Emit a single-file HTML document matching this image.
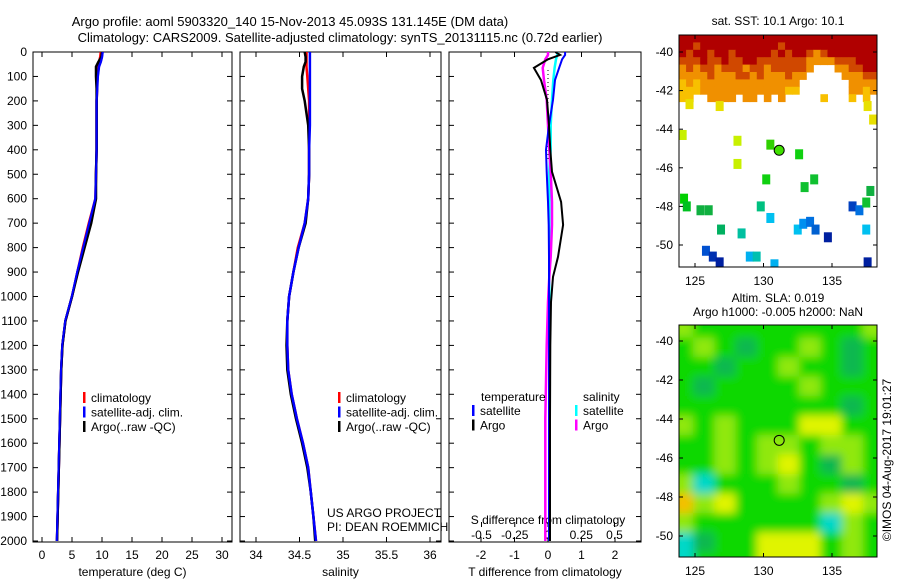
<!DOCTYPE html>
<html><head><meta charset="utf-8"><style>
body{margin:0;background:#fff;}
svg{display:block;font-family:"Liberation Sans",sans-serif;font-size:12px;}
</style></head><body>
<svg id="s" width="900" height="580" xmlns="http://www.w3.org/2000/svg">
<defs>
<clipPath id="c1"><rect x="33" y="52" width="199" height="490"/></clipPath>
<clipPath id="c2"><rect x="240" y="52" width="201" height="490"/></clipPath>
<clipPath id="c3"><rect x="449" y="52" width="192" height="490"/></clipPath>
<clipPath id="cm1"><rect x="679" y="35" width="198" height="232"/></clipPath>
<clipPath id="cm2"><rect x="679" y="325" width="198" height="232"/></clipPath>
<filter id="bl" x="-5%" y="-5%" width="110%" height="110%"><feGaussianBlur stdDeviation="4.5"/></filter>
</defs>
<text x="290" y="26" text-anchor="middle" font-size="13">Argo profile: aoml 5903320_140 15-Nov-2013 45.093S 131.145E (DM data)</text>
<text x="340" y="42" text-anchor="middle" font-size="13">Climatology: CARS2009. Satellite-adjusted climatology: synTS_20131115.nc (0.72d earlier)</text>
<g id="g1"></g>
<g id="g2"></g>
<g id="g3"></g>
<g id="m1"></g>
<g id="m2"></g>
<text transform="translate(891,460) rotate(-90)" text-anchor="middle">©IMOS 04-Aug-2017 19:01:27</text>
</svg>
<script>
const NS="http://www.w3.org/2000/svg";
const depths=[0,20,40,60,100,150,200,300,400,500,600,700,800,900,1000,1100,1200,1300,1400,1500,1600,1700,1800,1900,2000];
const tempClim=[9.8,9.7,9.5,9.3,9.2,9.2,9.1,9.1,9.1,9.0,8.9,7.8,6.8,5.9,5.0,3.9,3.4,3.2,3.1,3.0,2.9,2.8,2.7,2.6,2.5];
const tempSat=[10.1,10.0,9.8,9.5,9.3,9.2,9.1,9.1,9.1,9.0,8.9,7.9,6.9,5.9,5.0,3.9,3.4,3.2,3.1,3.0,2.9,2.8,2.7,2.6,2.5];
const tempArgo=[10.0,9.9,9.4,9.0,9.0,9.1,9.1,9.1,9.1,9.0,9.0,8.2,7.1,6.0,5.0,3.9,3.4,3.2,3.1,3.0,2.9,2.8,2.7,2.6,2.5];
const salClim=[34.58,34.58,34.58,34.58,34.59,34.60,34.61,34.61,34.61,34.61,34.60,34.56,34.48,34.43,34.38,34.36,34.36,34.37,34.41,34.47,34.54,34.60,34.63,34.66,34.69];
const salSat=[34.62,34.62,34.62,34.62,34.62,34.62,34.62,34.62,34.61,34.61,34.60,34.56,34.49,34.43,34.38,34.36,34.36,34.37,34.41,34.47,34.54,34.60,34.63,34.66,34.69];
const salArgo=[34.56,34.57,34.57,34.55,34.53,34.53,34.56,34.60,34.61,34.61,34.60,34.57,34.49,34.43,34.38,34.36,34.35,34.36,34.40,34.46,34.53,34.59,34.63,34.66,34.68];
const tdDepth=[0,12,30,65,115,196,300,400,490,613,707,838,920,1022,1200,1500,2000];
const tdArgo=[0.22,0.36,0.0,-0.42,-0.21,-0.03,0.03,0.07,0.12,0.39,0.45,0.30,0.15,0.09,0.07,0.06,0.06];
const tdSat=[0.51,0.51,0.42,0.33,0.21,0.15,0.03,-0.06,-0.04,0.0,0.02,0.03,0.03,0.03,0.03,0.03,0.03];
const sdArgo=[0.0,0.0,-0.02,-0.04,-0.03,-0.01,0.0,0.01,0.02,0.03,0.03,0.02,0.01,0.0,-0.01,-0.02,-0.02];
const sdSat=[0.07,0.07,0.06,0.05,0.04,0.03,0.02,0.02,0.01,0.01,0.01,0.01,0.01,0.01,0.01,0.01,0.01];
const depthTicks=[0,100,200,300,400,500,600,700,800,900,1000,1100,1200,1300,1400,1500,1600,1700,1800,1900,2000];
const tTicks=[0,5,10,15,20,25,30];
const sTicks=[34,34.5,35,35.5,36];
const sTickLabels=["34","34.5","35","35.5","36"];
const tdTicks=[-2,-1,0,1,2];
const sdTicks=[-0.5,-0.25,0,0.25,0.5];
const sdTickLabels=["-0.5","-0.25","0","0.25","0.5"];
const sstRows=["RRRRRRRRRRRRRRRRRRRRRRRRRRRR","RRrRRRRRRRRRRRrRRRRRRRRRRRRR","RrRRrRRrRRRRRrRrRRrorRRRRRRR","rrrRrrRrrRRrrrrrrroooorrrRRR","ororrorrrorrorrrrro...oorrRR","oooorooorroroooroo.....ooorr","yoyoooooooooooooo.......oooo","yyyooooooooooooyy.......ooyo","yy..oooo.oo.o.o.....y...y.y."];
const sstCol={R:"#b00000",r:"#d04800",o:"#f09000",y:"#f8c000"};
const sstSpots=[[124.6,-42.7,"#e8e000"],[126.8,-42.8,"#e8e000"],[128.1,-44.6,"#c8f000"],[128.1,-45.8,"#c8f000"],[130.5,-44.8,"#30d000"],[132.6,-45.3,"#10d010"],[130.2,-46.6,"#10d010"],[133.0,-47.0,"#10c030"],[133.7,-46.6,"#10c030"],[124.2,-47.6,"#00d000"],[124.4,-48.0,"#00c020"],[125.4,-48.2,"#10b040"],[126.0,-48.2,"#10b040"],[129.8,-48.0,"#00c080"],[126.9,-49.2,"#00b060"],[128.4,-49.4,"#00c0a0"],[130.5,-48.6,"#00c0f0"],[132.5,-49.2,"#00c0f0"],[132.9,-48.9,"#0090f0"],[133.4,-48.8,"#0070e0"],[133.8,-49.2,"#0060d0"],[134.7,-49.6,"#0020a0"],[136.5,-48.0,"#0040c0"],[137.0,-48.2,"#0070e0"],[137.5,-47.8,"#10c030"],[137.8,-47.2,"#10b040"],[137.5,-49.2,"#00c0f0"],[125.8,-50.3,"#0050d0"],[126.3,-50.6,"#0030b0"],[126.8,-50.9,"#0020a0"],[129.0,-50.6,"#00b0f0"],[129.5,-50.6,"#00c0b0"],[130.8,-51.0,"#00b0f0"],[137.6,-50.9,"#0020a0"],[124.1,-44.3,"#c8f000"],[138.0,-43.5,"#e8e000"],[137.6,-42.8,"#e8e000"]];
const slaGrid=[[1,0,0,0,0,0,0,0,0,1],[0,1,0,-1,0,0,1,0,-1,0],[0,0,-1,0,0,1,0,0,-1,0],[0,-1,0,0,0,0,1,0,0,0],[0,0,0,0,0,0,0,0,-1,0],[1,0,1,0,0,0,2,2,0,0],[0,0,1,0,1,1,0,1,1,0],[0,0,1,0,1,2,0,-1,1,0],[1,-2,0,0,0,1,0,0,-1,0],[3,1,2,0,0,0,0,1,2,1],[1,0,0,0,0,0,0,-2,1,0],[-2,-1,0,0,2,2,2,0,1,0],[-2,0,0,0,2,2,2,0,1,0]];
const slaCol={"-2":"#00d8c8","-1":"#10b850","0":"#10d800","1":"#90e810","2":"#e0f400","3":"#f4c000"};
const mapLonTicks=[125,130,135];
const map1LatTicks=[-40,-42,-44,-46,-48,-50];

function el(p,t,a,txt){const e=document.createElementNS(NS,t);for(const k in a)e.setAttribute(k,a[k]);if(txt!==undefined)e.textContent=txt;p.appendChild(e);return e;}
const yD=d=>52+d*0.2445;
function frame(g,x0,x1,ticksX,sx,labels,title){
  el(g,"rect",{x:x0,y:52,width:x1-x0,height:490,fill:"none",stroke:"#000"});
  depthTicks.forEach(d=>{el(g,"line",{x1:x0,x2:x0+5,y1:yD(d),y2:yD(d),stroke:"#000"});el(g,"line",{x1:x1-5,x2:x1,y1:yD(d),y2:yD(d),stroke:"#000"});});
  ticksX.forEach((v,i)=>{const x=sx(v);el(g,"line",{x1:x,x2:x,y1:52,y2:57,stroke:"#000"});el(g,"line",{x1:x,x2:x,y1:537,y2:542,stroke:"#000"});
    const t=el(g,"text",{x:x,y:559,"text-anchor":"middle"},labels[i]);});
  const tt=el(g,"text",{x:(x0+x1)/2,y:576,"text-anchor":"middle"},title);
}
function line(g,xs,ds,sx,col,w,clip){const pts=xs.map((v,i)=>sx(v).toFixed(1)+","+yD(ds[i]).toFixed(1)).join(" ");
  const p=el(g,"polyline",{points:pts,fill:"none",stroke:col,"stroke-width":w,"clip-path":"url(#"+clip+")"});}
function legend(g,x,y,items){items.forEach((it,i)=>{el(g,"rect",{x:x,y:y+i*14.5-10,width:2.5,height:11,fill:it[1]});const t=el(g,"text",{x:x+8,y:y+i*14.5},it[0]);});}

const g1=document.getElementById("g1");const sxT=v=>42+v*6;
depthTicks.forEach(d=>{const t=el(g1,"text",{x:27,y:yD(d)+4,"text-anchor":"end"},String(d));});
frame(g1,33,232,tTicks,sxT,tTicks.map(String),"temperature (deg C)");
line(g1,tempClim,depths,sxT,"#ff0000",2.5,"c1");line(g1,tempSat,depths,sxT,"#0000ff",2.5,"c1");line(g1,tempArgo,depths,sxT,"#000",2.5,"c1");
line(g1,tempSat.map((v,i)=>i>10?v-0.03:v),depths,sxT,"#0000ff",2,"c1");
legend(g1,83,402,[["climatology","#ff0000"],["satellite-adj. clim.","#0000ff"],["Argo(..raw -QC)","#000"]]);
const g2=document.getElementById("g2");const sxS=v=>256+(v-34)*87;
frame(g2,240,441,sTicks,sxS,sTickLabels,"salinity");
line(g2,salClim,depths,sxS,"#ff0000",2.5,"c2");line(g2,salArgo,depths,sxS,"#000",2.5,"c2");line(g2,salSat,depths,sxS,"#0000ff",2.5,"c2");
legend(g2,338,402,[["climatology","#ff0000"],["satellite-adj. clim.","#0000ff"],["Argo(..raw -QC)","#000"]]);
el(g2,"text",{x:327,y:517},"US ARGO PROJECT");el(g2,"text",{x:327,y:531},"PI: DEAN ROEMMICH");
const g3=document.getElementById("g3");const sxD=v=>548+v*33.5;const sxSD=v=>548+v*133;
frame(g3,449,641,tdTicks,sxD,tdTicks.map(String),"T difference from climatology");
sdTicks.forEach((v,i)=>{const x=sxSD(v);el(g3,"line",{x1:x,x2:x,y1:522,y2:527,stroke:"#000"});const t=el(g3,"text",{x:x,y:539,"text-anchor":"middle"},sdTickLabels[i]);});
el(g3,"text",{x:548,y:524,"text-anchor":"middle"},"S difference from climatology");
el(g3,"line",{x1:548,x2:548,y1:70,y2:160,stroke:"#000","stroke-dasharray":"1 3"});
line(g3,sdSat,tdDepth,sxSD,"#00ffff",2.5,"c3");line(g3,sdArgo,tdDepth,sxSD,"#ff00ff",2.5,"c3");
line(g3,tdSat,tdDepth,sxD,"#0000ff",2,"c3");line(g3,tdArgo,tdDepth,sxD,"#000",2,"c3");
el(g3,"text",{x:481,y:401},"temperature");el(g3,"text",{x:583,y:401},"salinity");
legend(g3,472,415,[["satellite","#0000ff"],["Argo","#000"]]);legend(g3,575,415,[["satellite","#00ffff"],["Argo","#ff00ff"]]);

const lonX=v=>695+(v-125)*13.7;const lat1=v=>52+(-40-v)*19.3;const lat2=v=>341+(-40-v)*19.5;
function mapFrame(g,y0,latf){
  el(g,"rect",{x:679,y:y0,width:198,height:232,fill:"none",stroke:"#000"});
  mapLonTicks.forEach(v=>{const x=lonX(v);el(g,"line",{x1:x,x2:x,y1:y0,y2:y0+4,stroke:"#000"});el(g,"line",{x1:x,x2:x,y1:y0+228,y2:y0+232,stroke:"#000"});const t=el(g,"text",{x:x,y:y0+250,"text-anchor":"middle"},String(v));});
  map1LatTicks.forEach(v=>{const y=latf(v);el(g,"line",{x1:679,x2:683,y1:y,y2:y,stroke:"#000"});el(g,"line",{x1:873,x2:877,y1:y,y2:y,stroke:"#000"});const t=el(g,"text",{x:673,y:y+4,"text-anchor":"end"},String(v));});
}
const m1=document.getElementById("m1");
const cg=el(m1,"g",{"clip-path":"url(#cm1)"});
sstRows.forEach((row,r)=>{[...row].forEach((c,ci)=>{if(c==="."||!sstCol[c])return;const cell=el(cg,"rect",{x:679+ci*7.07,y:35+r*7.4,width:7.6,height:7.9,fill:sstCol[c]});});});
sstSpots.forEach(s=>{const cell=el(cg,"rect",{x:lonX(s[0])-4,y:lat1(s[1])-5,width:8,height:10,fill:s[2]});});
el(m1,"circle",{cx:lonX(131.145),cy:lat1(-45.093),r:5,fill:"#40e000",stroke:"#000"});
mapFrame(m1,35,lat1);
el(m1,"text",{x:778,y:25,"text-anchor":"middle"},"sat. SST: 10.1  Argo: 10.1");
const m2=document.getElementById("m2");
el(m2,"rect",{x:679,y:325,width:198,height:232,fill:"#10d800"});
const sg=el(el(m2,"g",{"clip-path":"url(#cm2)"}),"g",{filter:"url(#bl)"});
slaGrid.forEach((row,r)=>row.forEach((v,c)=>{const cell=el(sg,"rect",{x:672+c*21.2,y:318+r*19.5,width:21.5,height:20,fill:slaCol[v]});}));
el(m2,"circle",{cx:lonX(131.145),cy:lat2(-45.093),r:5,fill:"none",stroke:"#000"});
mapFrame(m2,325,lat2);
el(m2,"text",{x:778,y:302,"text-anchor":"middle"},"Altim. SLA: 0.019");
el(m2,"text",{x:778,y:316,"text-anchor":"middle"},"Argo h1000: -0.005 h2000: NaN");
</script>
</body></html>
